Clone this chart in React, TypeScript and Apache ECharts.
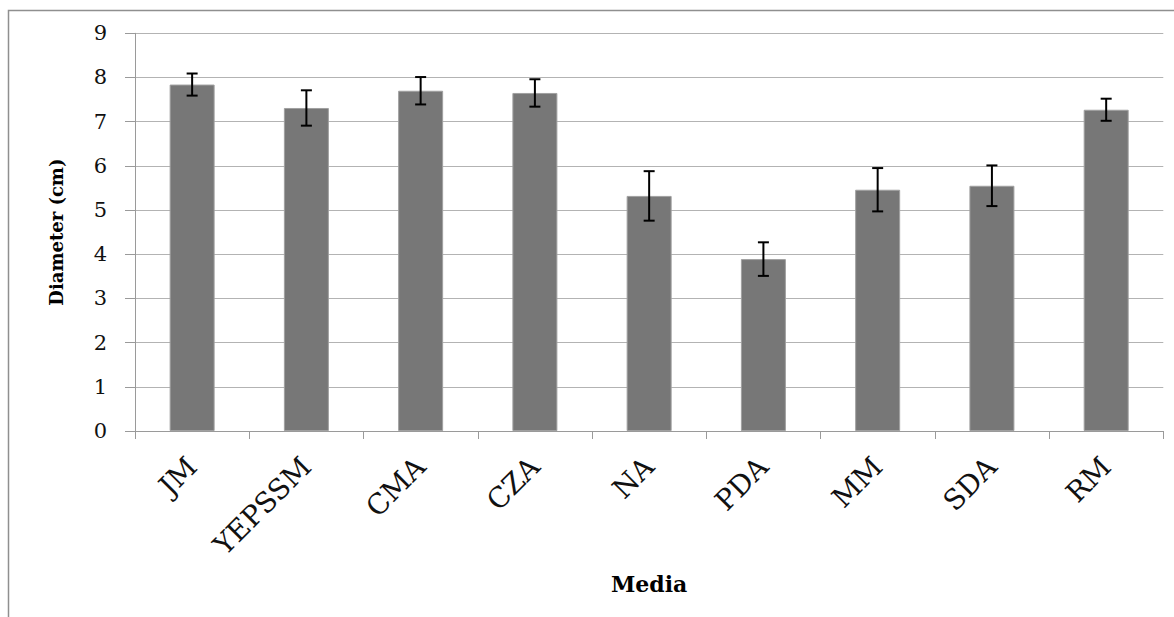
import React, { useEffect, useRef } from "react";
import * as echarts from "echarts";

const categories = ["JM", "YEPSSM", "CMA", "CZA", "NA", "PDA", "MM", "SDA", "RM"];
const means = [7.84, 7.31, 7.7, 7.65, 5.32, 3.89, 5.46, 5.55, 7.27];
const errors = [0.25, 0.4, 0.31, 0.31, 0.56, 0.38, 0.49, 0.46, 0.25];
const yTicks = [0, 1, 2, 3, 4, 5, 6, 7, 8, 9];

const FONT = "'DejaVu Serif', 'Liberation Serif', serif";

export default function App() {
  const ref = useRef<HTMLDivElement>(null);
  useEffect(() => {
    if (!ref.current) return;
    const chart = echarts.init(ref.current, null, { renderer: "svg" });
    const errData = categories.map((_, i) => [i, means[i] - errors[i], means[i] + errors[i]]);
    chart.setOption({
      animation: false,
      backgroundColor: "#ffffff",
      grid: { left: 135, top: 33.3, right: 10.7, bottom: 186, containLabel: false },
      graphic: [
        {
          type: "rect",
          z: -10,
          silent: true,
          shape: { x: 8.5, y: 10.5, width: 1180, height: 700 },
          style: { fill: "none", stroke: "#8f8f8f", lineWidth: 1.5 },
        },
      ],
      xAxis: {
        type: "category",
        data: categories,
        boundaryGap: true,
        name: "Media",
        nameLocation: "middle",
        nameGap: 142,
        nameTextStyle: { fontFamily: FONT, fontSize: 22, fontWeight: "bold", color: "#000" },
        axisLine: { show: true, lineStyle: { color: "#9a9a9a", width: 1 } },
        axisTick: { show: true, length: 8, alignWithLabel: false, lineStyle: { color: "#9a9a9a" } },
        axisLabel: {
          rotate: 45,
          margin: 31,
          verticalAlign: "middle",
          fontFamily: FONT,
          fontSize: 28,
          color: "#111",
          interval: 0,
        },
        splitLine: { show: false },
      },
      yAxis: {
        type: "value",
        min: 0,
        max: 9,
        interval: 1,
        name: "Diameter (cm)",
        nameLocation: "middle",
        nameRotate: 90,
        nameGap: 70,
        nameTextStyle: { fontFamily: FONT, fontSize: 18, fontWeight: "bold", color: "#000" },
        axisLine: { show: true, lineStyle: { color: "#9a9a9a", width: 1 } },
        axisTick: { show: true, length: 10, lineStyle: { color: "#9a9a9a" } },
        axisLabel: {
          margin: 28,
          fontFamily: FONT,
          fontSize: 21,
          color: "#111",
          formatter: (v: number) => (yTicks.includes(v) ? String(v) : ""),
        },
        splitLine: { show: true, lineStyle: { color: "#b3b3b3", width: 1 } },
      },
      series: [
        {
          type: "bar",
          data: means,
          barWidth: 45,
          itemStyle: { color: "#777777", borderColor: "#a0a0a0", borderWidth: 1 },
        },
        {
          type: "custom",
          data: errData,
          z: 10,
          renderItem: (params: any, api: any) => {
            const x = api.value(0);
            const lo = api.coord([x, api.value(1)]);
            const hi = api.coord([x, api.value(2)]);
            const w = 5.5;
            const style = { stroke: "#000", lineWidth: 2 };
            return {
              type: "group",
              children: [
                { type: "line", shape: { x1: lo[0], y1: lo[1], x2: hi[0], y2: hi[1] }, style },
                { type: "line", shape: { x1: hi[0] - w, y1: hi[1], x2: hi[0] + w, y2: hi[1] }, style },
                { type: "line", shape: { x1: lo[0] - w, y1: lo[1], x2: lo[0] + w, y2: lo[1] }, style },
              ],
            };
          },
        },
      ],
    });
    return () => chart.dispose();
  }, []);
  return (
    <div
      ref={ref}
      style={{ position: "fixed", left: 0, top: 0, width: 1174, height: 617, background: "#fff" }}
    />
  );
}
